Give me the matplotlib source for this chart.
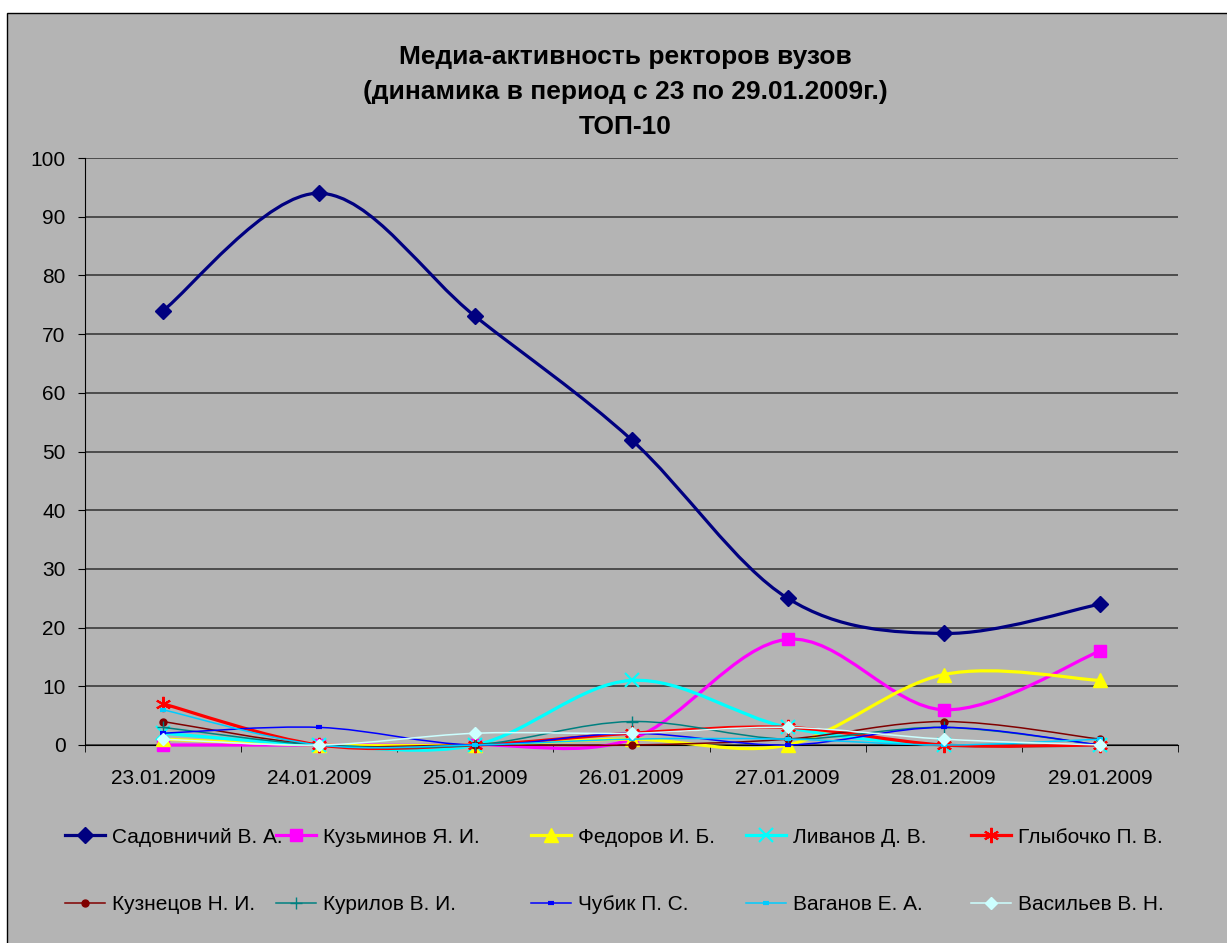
import numpy as np
import matplotlib
matplotlib.use('Agg')
import matplotlib.pyplot as plt
from matplotlib.path import Path
from matplotlib.patches import PathPatch, Rectangle
from matplotlib.lines import Line2D

plt.rcParams['font.family'] = ['Liberation Sans', 'DejaVu Sans']

dates = ['23.01.2009', '24.01.2009', '25.01.2009', '26.01.2009',
         '27.01.2009', '28.01.2009', '29.01.2009']
names = ['Садовничий В. А.', 'Кузьминов Я. И.', 'Федоров И. Б.', 'Ливанов Д. В.',
         'Глыбочко П. В.', 'Кузнецов Н. И.', 'Курилов В. И.', 'Чубик П. С.',
         'Ваганов Е. А.', 'Васильев В. Н.']
sadovnichy = [74, 94, 73, 52, 25, 19, 24]
kuzminov = [0, 0, 0, 1, 18, 6, 16]
fedorov = [1, 0, 0, 1, 0, 12, 11]
livanov = [2, 0, 0, 11, 3, 0, 0]
glybochko = [7, 0, 0, 2, 3, 0, 0]
kuznetsov = [4, 0, 0, 0, 1, 4, 1]
kurilov = [3, 0, 0, 4, 1, 3, 0]
chubik = [2, 3, 0, 2, 0, 3, 0]
vaganov = [6, 0, 0, 1, 1, 0, 1]
vasiliev = [1, 0, 2, 2, 3, 1, 0]
series = [sadovnichy, kuzminov, fedorov, livanov, glybochko,
          kuznetsov, kurilov, chubik, vaganov, vasiliev]

colors = ['#000080', '#FF00FF', '#FFFF00', '#00FFFF', '#FF0000',
          '#800000', '#008080', '#0000FF', '#00CCFF', '#CCFFFF']
markers = ['D', 's', '^', 'x', (6, 2, 0), 'o', '+', '_', '_', 'D']
msizes = [8, 9, 10, 10, 11, 5, 8, 5, 5, 6]
mews = [1, 1, 1, 1.5, 1.5, 1, 1, 3, 3, 1]
lws = [2.3, 2.3, 2.3, 2.3, 2.3, 1.1, 1.1, 1.1, 1.1, 1.1]

BG = '#B4B4B4'

fig = plt.figure(figsize=(12.27, 9.43), dpi=100)
fig.patch.set_facecolor('white')
fig.patches.append(Rectangle((7 / 1227, -0.01), 1.0, 1 - 13 / 943 + 0.01,
                             transform=fig.transFigure, facecolor=BG,
                             edgecolor='black', lw=1, zorder=-10))

ax = fig.add_axes([85 / 1227, 1 - 745 / 943, (1178 - 85) / 1227, (745 - 158) / 943])
ax.set_facecolor(BG)


def smooth_path(xs, ys):
    n = len(xs)
    verts = [(xs[0], ys[0])]
    codes = [Path.MOVETO]
    for i in range(n - 1):
        a = i - 1 if i > 0 else i
        d = i + 2 if i + 2 < n else i + 1
        c1 = (xs[i] + (xs[i + 1] - xs[a]) / 6, ys[i] + (ys[i + 1] - ys[a]) / 6)
        c2 = (xs[i + 1] - (xs[d] - xs[i]) / 6, ys[i + 1] - (ys[d] - ys[i]) / 6)
        verts += [c1, c2, (xs[i + 1], ys[i + 1])]
        codes += [Path.CURVE4] * 3
    return Path(verts, codes)


x = np.arange(len(dates))
handles = []
for k, (vals, c, m, ms, mew, lw) in enumerate(zip(series, colors, markers, msizes, mews, lws)):
    p = PathPatch(smooth_path(list(x), list(vals)), fill=False, edgecolor=c, lw=lw,
                  zorder=3 + k * 0.1, clip_on=False, capstyle='round', joinstyle='round')
    ax.add_patch(p)
    ax.plot(x, vals, linestyle='none', marker=m, markersize=ms, color=c,
            markeredgecolor=c, markeredgewidth=mew, zorder=3.05 + k * 0.1, clip_on=False)
    handles.append(Line2D([], [], color=c, lw=lw, marker=m, markersize=ms,
                          markeredgewidth=mew, markeredgecolor=c))

ax.set_xlim(-0.5, len(dates) - 0.5)
ax.set_ylim(0, 100)
ax.set_yticks(np.arange(0, 101, 10))
ax.yaxis.grid(True, color='#3A3A3A', lw=1.2)
ax.set_axisbelow(True)
ax.set_xticks(x)
ax.set_xticklabels(dates)
ax.set_xticks(np.arange(-0.5, len(dates), 1), minor=True)
ax.tick_params(axis='x', which='major', length=0, pad=17, labelsize=15)
ax.tick_params(axis='x', which='minor', length=5, direction='out', color='black')
ax.tick_params(axis='y', length=5, direction='out', pad=9, labelsize=15, color='black')
for s in ['top', 'right']:
    ax.spines[s].set_visible(False)
ax.spines['left'].set_color('black')
ax.spines['bottom'].set_color('black')

title_lines = ['Медиа-активность ректоров вузов',
               '(динамика в период с 23 по 29.01.2009г.)',
               'ТОП-10']
for i, t in enumerate(title_lines):
    fig.text(625 / 1227, 1 - (57 + 35 * i) / 943, t, ha='center', va='center',
             fontsize=19, fontweight='bold')

# legend: one legend per column, two rows each
col_text_x = [112, 323, 578, 793, 1018]
fs_leg = 15
px_per_fs = fs_leg * 100 / 72
hl = 40 / px_per_fs
htp = 7 / px_per_fs
for ci in range(5):
    idx = [ci, ci + 5]
    left_px = col_text_x[ci] - 7 - 40
    leg = fig.legend([handles[i] for i in idx], [names[i] for i in idx],
                     loc='center left', bbox_to_anchor=(left_px / 1227, 1 - 871 / 943),
                     frameon=False, fontsize=fs_leg, handlelength=hl, handletextpad=htp,
                     labelspacing=2.35, borderpad=0, borderaxespad=0)

fig.savefig('out.png', dpi=100, facecolor=fig.get_facecolor())
